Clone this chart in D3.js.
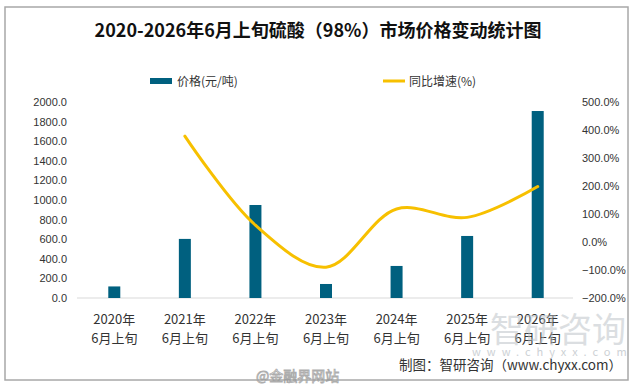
<!DOCTYPE html>
<html>
<head>
<meta charset="utf-8">
<script src="https://cdn.jsdelivr.net/npm/d3@7"></script>
<style>
  body { margin: 0; background: #fff; }
  svg { display: block; font-family: "Noto Sans CJK SC", "Noto Sans", sans-serif; }
</style>
</head>
<body>
<div class="chartContainer"></div>
<script>
var categories = ["2020年6月上旬", "2021年6月上旬", "2022年6月上旬", "2023年6月上旬", "2024年6月上旬", "2025年6月上旬", "2026年6月上旬"];
var prices = [118, 603, 949, 143, 327, 633, 1908];
var growth = [null, 378, 60, -90, 118, 88, 198];
var leftTicks = [0, 200, 400, 600, 800, 1000, 1200, 1400, 1600, 1800, 2000];
var rightTicks = [-200, -100, 0, 100, 200, 300, 400, 500];

var svgWidth = 639, svgHeight = 392;
var plot = { left: 79, right: 573, top: 102, bottom: 298 };

var svg = d3.select('div.chartContainer').append('svg')
    .attr('width', svgWidth).attr('height', svgHeight);

// frame
svg.append('rect')
    .attr('x', 5).attr('y', 7).attr('width', 623).attr('height', 373)
    .attr('fill', '#fff').attr('stroke', '#a8a8a8').attr('stroke-width', 1.5);

svg.append('text')
    .attr('x', 318).attr('y', 37)
    .attr('text-anchor', 'middle')
    .attr('font-size', 18).attr('font-weight', 'bold').attr('fill', '#111')
    .text('2020-2026年6月上旬硫酸（98%）市场价格变动统计图');

var x = d3.scaleBand().domain(categories).range([plot.left, plot.right]);
var yLeft = d3.scaleLinear().domain([0, 2000]).range([plot.bottom, plot.top]);
var yRight = d3.scaleLinear().domain([-200, 500]).range([plot.bottom, plot.top]);

// baseline
svg.append('line')
    .attr('x1', plot.left - 2).attr('x2', plot.right)
    .attr('y1', yLeft(0)).attr('y2', yLeft(0))
    .attr('stroke', '#d9d9d9').attr('stroke-width', 1);

// left axis labels
var leftAxis = d3.axisLeft(yLeft).tickValues(leftTicks).tickSize(0).tickPadding(0)
    .tickFormat(function(d) { return d3.format('.1f')(d); });
svg.append('g').attr('transform', 'translate(67,0)').call(leftAxis)
    .call(function(g) { g.select('.domain').remove(); })
    .selectAll('text').attr('font-size', 11).attr('fill', '#333')
    .attr('font-family', '"Liberation Sans", "Noto Sans", sans-serif');

// right axis labels
var rightAxis = d3.axisRight(yRight).tickValues(rightTicks).tickSize(0).tickPadding(0)
    .tickFormat(function(d) { return d3.format('.1f')(d) + '%'; });
svg.append('g').attr('transform', 'translate(582,0)').call(rightAxis)
    .call(function(g) { g.select('.domain').remove(); })
    .selectAll('text').attr('font-size', 11).attr('fill', '#333')
    .attr('font-family', '"Liberation Sans", "Noto Sans", sans-serif');

// bars
var barWidth = 12;
svg.selectAll('rect.bar')
    .data(prices)
    .enter()
    .append('rect')
    .attr('class', 'bar')
    .attr('x', function(d, i) { return x(categories[i]) + x.bandwidth() / 2 - barWidth / 2; })
    .attr('y', function(d) { return yLeft(d); })
    .attr('width', barWidth)
    .attr('height', function(d) { return yLeft(0) - yLeft(d); })
    .attr('fill', '#00607f');

// growth line
var line = d3.line()
    .defined(function(d) { return d != null; })
    .x(function(d, i) { return x(categories[i]) + x.bandwidth() / 2; })
    .y(function(d) { return yRight(d); })
    .curve(d3.curveCatmullRom.alpha(0.5));
svg.append('path')
    .datum(growth)
    .attr('d', line)
    .attr('fill', 'none')
    .attr('stroke', '#f7c000')
    .attr('stroke-width', 3)
    .attr('stroke-linecap', 'round');

// x labels
var xl = svg.append('g');
categories.forEach(function(c) {
    var cx = x(c) + x.bandwidth() / 2;
    var t = xl.append('text').attr('text-anchor', 'middle')
        .attr('font-size', 13).attr('fill', '#333');
    t.append('tspan').attr('x', cx).attr('y', 324).text(c.slice(0, 5));
    t.append('tspan').attr('x', cx).attr('y', 343).text(c.slice(5));
});

// legend
svg.append('rect').attr('x', 150).attr('y', 78).attr('width', 22).attr('height', 6).attr('fill', '#00607f');
svg.append('text').attr('x', 177).attr('y', 86).attr('font-size', 12).attr('fill', '#333').text('价格(元/吨)');
svg.append('line').attr('x1', 383).attr('x2', 405).attr('y1', 81).attr('y2', 81)
    .attr('stroke', '#f7c000').attr('stroke-width', 3);
svg.append('text').attr('x', 409).attr('y', 86).attr('font-size', 12).attr('fill', '#333').text('同比增速(%)');

// watermarks
svg.append('text').attr('x', 490).attr('y', 342).attr('font-size', 34).attr('fill', '#b8bec4')
    .attr('opacity', 0.5).text('智研咨询');
svg.append('text').attr('x', 472).attr('y', 356).attr('font-size', 11).attr('fill', '#b8bec4')
    .attr('letter-spacing', 6).attr('opacity', 0.7).text('www.chyxx.com');
svg.append('text').attr('x', 622).attr('y', 370).attr('text-anchor', 'end')
    .attr('font-size', 13.5).attr('fill', '#333')
    .text('制图：智研咨询（www.chyxx.com）');
svg.append('text').attr('x', 256).attr('y', 381).attr('font-size', 14).attr('fill', '#fff')
    .attr('stroke', '#999').attr('stroke-width', 0.8).attr('opacity', 0.8).text('@金融界网站');
</script>
</body>
</html>
